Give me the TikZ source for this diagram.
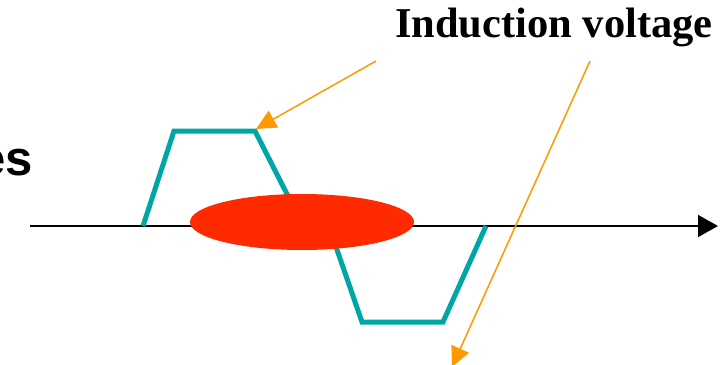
\documentclass[tikz,border=0pt]{standalone}
\usepackage{fontspec}
\setmainfont{Liberation Serif}
\newfontfamily\arialfont{Liberation Sans}
\usetikzlibrary{arrows.meta}
\definecolor{waveteal}{RGB}{0,166,166}
\definecolor{pulsered}{RGB}{255,42,0}
\definecolor{pointerorange}{RGB}{255,153,0}
\tikzset{
  axisline/.style={line width=1.6pt, black, -{Triangle[length=20pt,width=22pt]}},
  wave/.style={line width=5pt, waveteal, line join=miter},
  pointer/.style={line width=1.5pt, pointerorange, -{Triangle[length=20pt,width=19pt]}},
  title/.style={font=\fontsize{42.5}{50}\selectfont\bfseries, inner sep=0pt},
  sidelabel/.style={font=\arialfont\fontsize{49}{58}\selectfont\bfseries, inner sep=0pt}
}
\begin{document}
\begin{tikzpicture}[x=1pt, y=-1pt]
  \useasboundingbox (0,0) rectangle (727,364);

  % labels
  \node[title, anchor=base east] (title) at (713,37) {Induction voltage};
  \node[sidelabel, anchor=base east] (side) at (33,175) {es};

  % time axis
  \coordinate (axL) at (30,226);
  \coordinate (axR) at (718,226);
  \draw[axisline] (axL) -- (axR);

  % induced voltage waveform
  \coordinate (w0) at (143,226);
  \coordinate (w1) at (174,131);
  \coordinate (w2) at (255,131);
  \coordinate (w3) at (290,200);
  \coordinate (w4) at (335,244);
  \coordinate (w5) at (362,322);
  \coordinate (w6) at (443,322);
  \coordinate (w7) at (486,226);
  \draw[wave] (w0) -- (w1) -- (w2) -- (w3) -- (w4) -- (w5) -- (w6) -- (w7);

  % passing bunch
  \fill[pulsered] (302,222) ellipse [x radius=112, y radius=28];

  % pointers from the title
  \coordinate (p1s) at (376,61);
  \coordinate (p1e) at (256,129);
  \coordinate (p2s) at (590,61);
  \coordinate (p2e) at (452,367);
  \draw[pointer] (p1s) -- (p1e);
  \draw[pointer] (p2s) -- (p2e);
\end{tikzpicture}
\end{document}
